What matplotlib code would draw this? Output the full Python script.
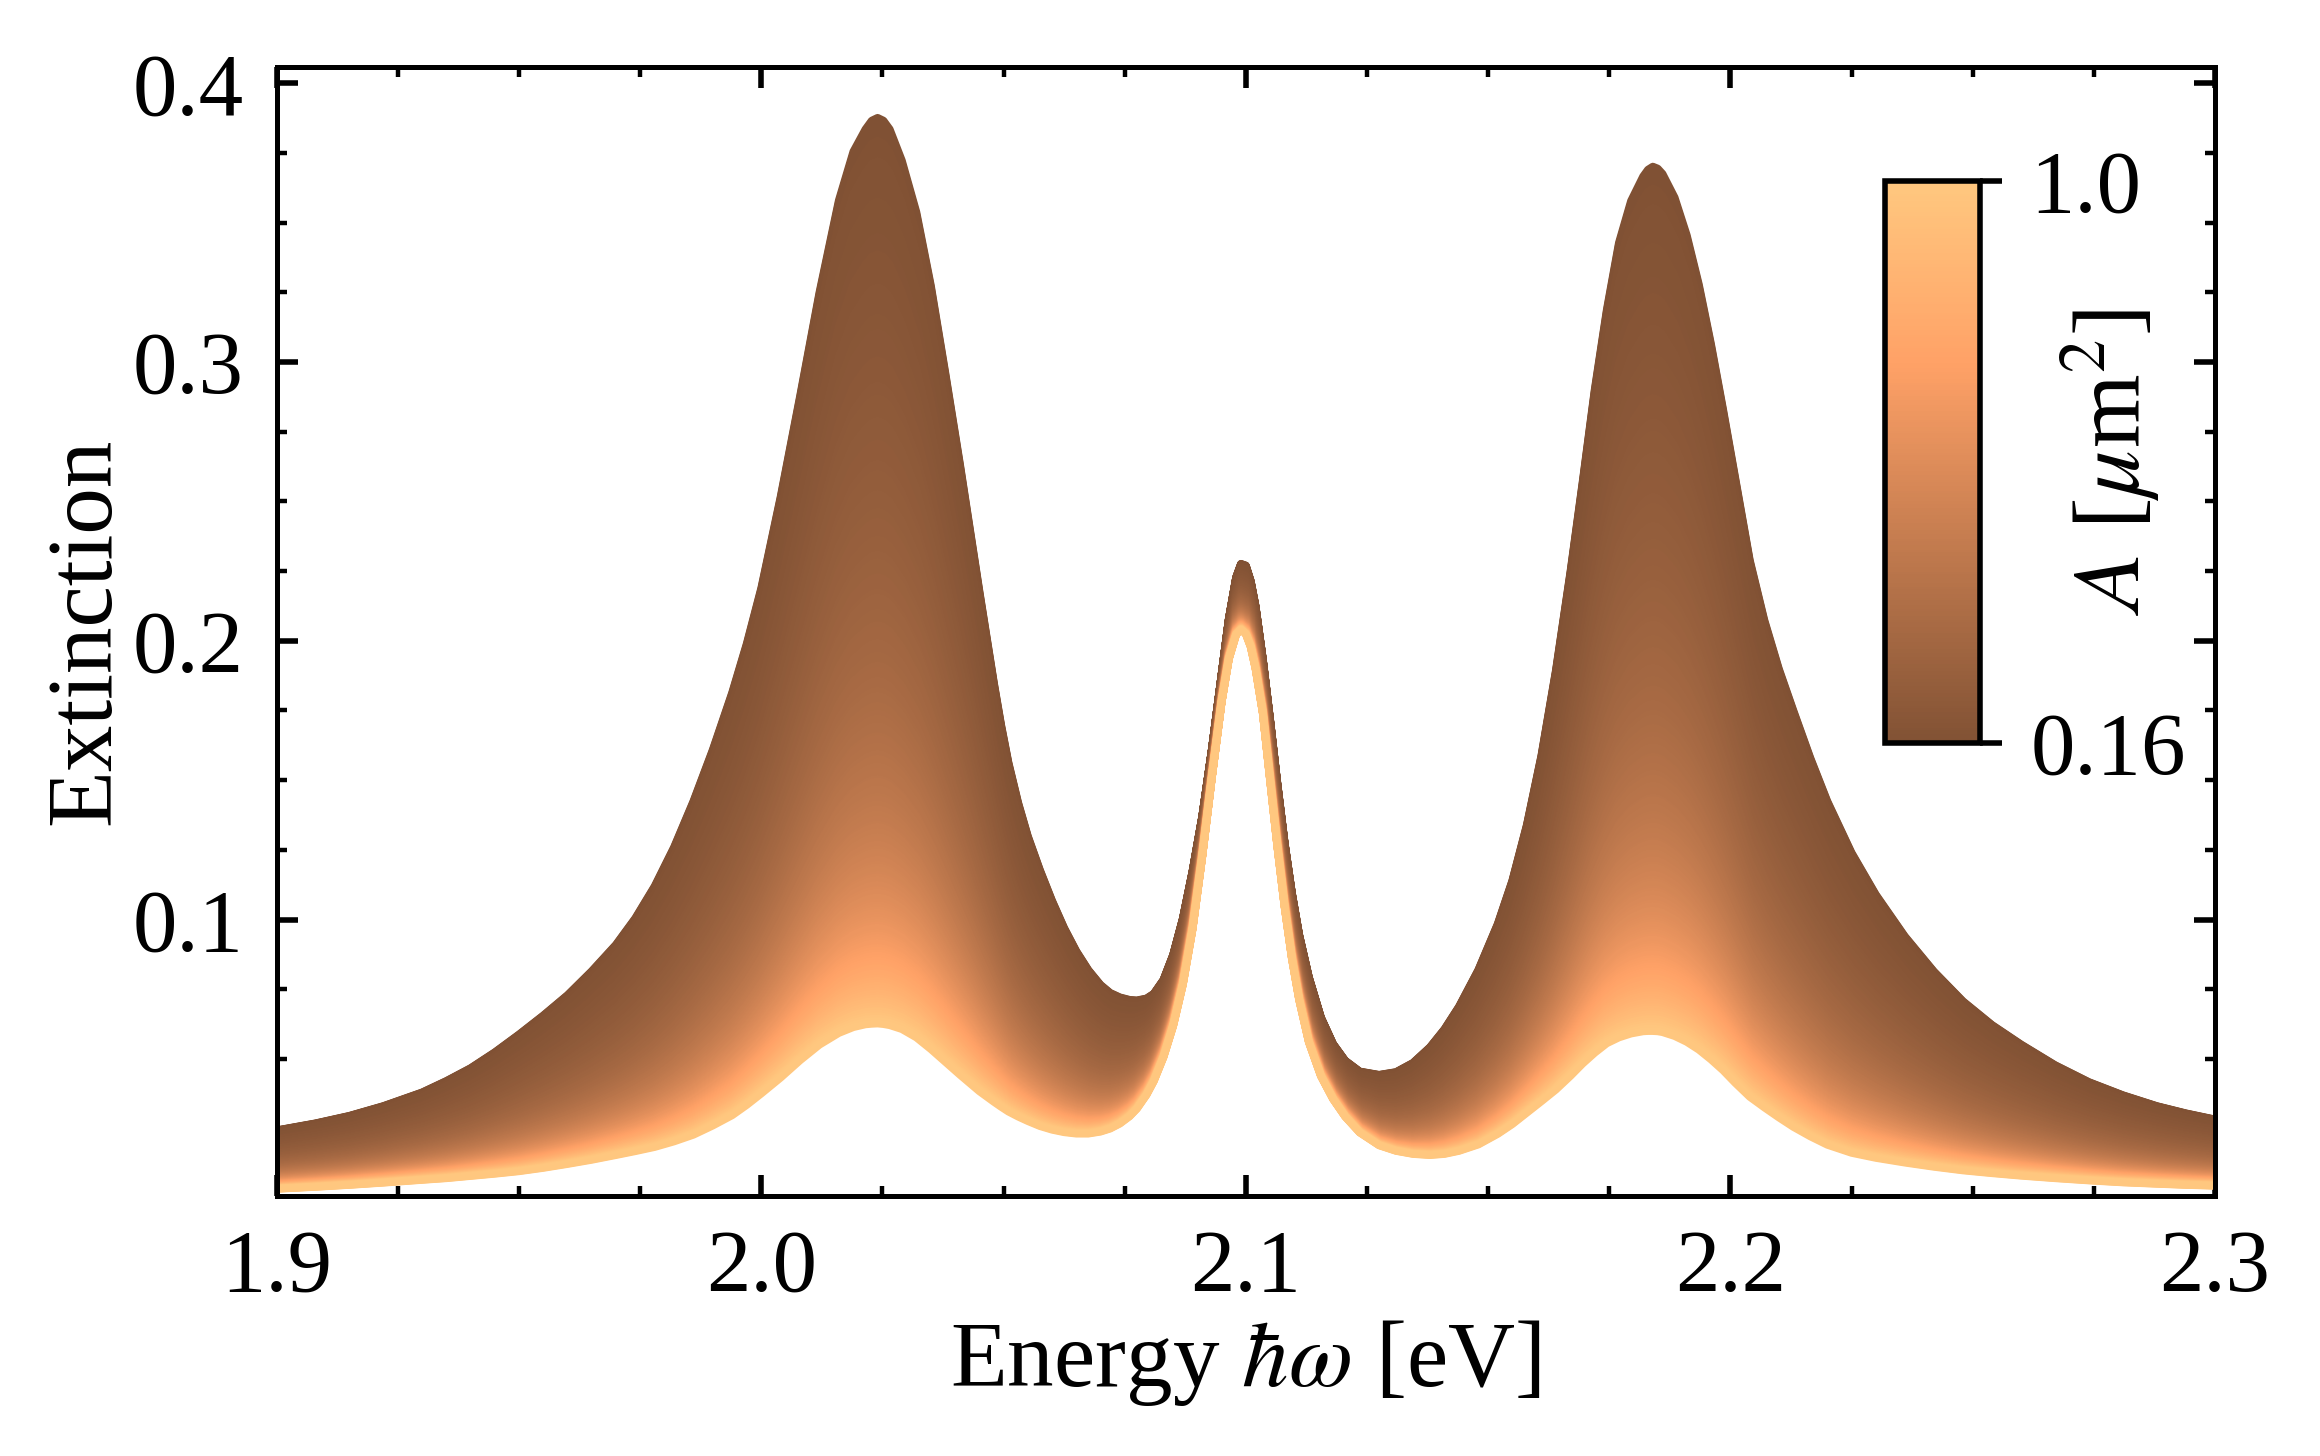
import numpy as np
import matplotlib
matplotlib.use("Agg")
import matplotlib.pyplot as plt
from matplotlib.collections import LineCollection
from matplotlib.colors import ListedColormap, Normalize
from matplotlib.cm import ScalarMappable
from matplotlib.ticker import MultipleLocator

plt.rcParams['font.family'] = ['Liberation Serif', 'DejaVu Serif']
plt.rcParams['mathtext.fontset'] = 'stix'

# ---------------- data ----------------
energy = [1.900, 1.908, 1.915, 1.922, 1.930, 1.935, 1.940, 1.945, 1.950, 1.955,
          1.960, 1.965, 1.970, 1.974, 1.978, 1.982, 1.986, 1.990, 1.994, 1.997,
          2.000, 2.004, 2.008, 2.012, 2.016, 2.019, 2.0215, 2.0228, 2.024, 2.0252,
          2.0265, 2.029, 2.032, 2.035, 2.038, 2.041, 2.045, 2.048, 2.0495, 2.051,
          2.053, 2.055, 2.0575, 2.060, 2.0625, 2.065, 2.0675, 2.070, 2.072, 2.074,
          2.076, 2.0775, 2.0795, 2.081, 2.083, 2.085, 2.087, 2.089, 2.091, 2.093,
          2.095, 2.0965, 2.098, 2.099, 2.100, 2.101, 2.102, 2.1035, 2.105, 2.1065,
          2.108, 2.1095, 2.111, 2.113, 2.1155, 2.118, 2.1205, 2.1235, 2.1275, 2.131,
          2.1345, 2.138, 2.141, 2.144, 2.148, 2.152, 2.155, 2.158, 2.161, 2.164,
          2.167, 2.1695, 2.172, 2.1745, 2.177, 2.1795, 2.182, 2.183, 2.184, 2.185,
          2.186, 2.1885, 2.191, 2.1935, 2.196, 2.1985, 2.201, 2.204, 2.207, 2.210,
          2.213, 2.2165, 2.220, 2.225, 2.230, 2.236, 2.242, 2.248, 2.254, 2.260,
          2.267, 2.274, 2.281, 2.288, 2.294, 2.300]

# extinction for the smallest cell area (A = 0.16 um^2, upper envelope)
ext_A_min = [0.0244, 0.0269, 0.0296, 0.0331, 0.0380, 0.0421, 0.0467, 0.0524, 0.0588, 0.0656,
             0.0729, 0.0815, 0.0910, 0.1005, 0.1120, 0.1260, 0.1425, 0.1610, 0.1815, 0.1990,
             0.2190, 0.2518, 0.2878, 0.3250, 0.3580, 0.3755, 0.3835, 0.3866, 0.3876, 0.3866,
             0.3835, 0.3723, 0.3538, 0.3274, 0.2959, 0.2634, 0.2180, 0.1850, 0.1698, 0.1564,
             0.1420, 0.1300, 0.1178, 0.1068, 0.0970, 0.0887, 0.0819, 0.0766, 0.0737, 0.0721,
             0.0712, 0.0710, 0.0717, 0.0734, 0.0784, 0.0874, 0.1004, 0.1174, 0.1370, 0.1612,
             0.1880, 0.2080, 0.2228, 0.2276, 0.2270, 0.2215, 0.2125, 0.1935, 0.1718, 0.1489,
             0.1276, 0.1096, 0.0946, 0.0794, 0.0649, 0.0554, 0.0494, 0.0455, 0.0443, 0.0453,
             0.0486, 0.0542, 0.0607, 0.0688, 0.0820, 0.0985, 0.1140, 0.1340, 0.1589, 0.1895,
             0.2249, 0.2569, 0.2901, 0.3188, 0.3428, 0.3578, 0.3666, 0.3690, 0.3701, 0.3694,
             0.3675, 0.3590, 0.3455, 0.3278, 0.3065, 0.2830, 0.2585, 0.2290, 0.2075, 0.1900,
             0.1750, 0.1580, 0.1425, 0.1240, 0.1090, 0.0940, 0.0814, 0.0707, 0.0622, 0.0552,
             0.0478, 0.0417, 0.0370, 0.0331, 0.0305, 0.0283]

# extinction for the largest cell area (A = 1.0 um^2, lower envelope)
ext_A_max = [0.0034, 0.0041, 0.0048, 0.0056, 0.0066, 0.0072, 0.0080, 0.0088, 0.0097, 0.0109,
             0.0123, 0.0138, 0.0155, 0.0169, 0.0184, 0.0204, 0.0228, 0.0261, 0.0298, 0.0335,
             0.0376, 0.0433, 0.0495, 0.0551, 0.0593, 0.0614, 0.0624, 0.0626, 0.0627, 0.0625,
             0.0621, 0.0607, 0.0577, 0.0535, 0.0489, 0.0443, 0.0384, 0.0346, 0.0328, 0.0311,
             0.0293, 0.0277, 0.0259, 0.0246, 0.0237, 0.0232, 0.0232, 0.0239, 0.0250, 0.0268,
             0.0294, 0.0321, 0.0371, 0.0420, 0.0506, 0.0618, 0.0766, 0.0965, 0.1225, 0.1511,
             0.1780, 0.1935, 0.2022, 0.2040, 0.2024, 0.1978, 0.1900, 0.1740, 0.1500, 0.1262,
             0.1045, 0.0860, 0.0712, 0.0560, 0.0438, 0.0356, 0.0293, 0.0236, 0.0190, 0.0170,
             0.0159, 0.0155, 0.0159, 0.0170, 0.0193, 0.0231, 0.0266, 0.0307, 0.0348, 0.0390,
             0.0439, 0.0483, 0.0522, 0.0556, 0.0577, 0.0591, 0.0599, 0.0600, 0.0600, 0.0599,
             0.0596, 0.0582, 0.0561, 0.0533, 0.0498, 0.0459, 0.0414, 0.0364, 0.0326, 0.0290,
             0.0256, 0.0222, 0.0192, 0.0163, 0.0145, 0.0128, 0.0113, 0.0100, 0.0090, 0.0081,
             0.0072, 0.0064, 0.0057, 0.0052, 0.0048, 0.0045]

area_range = [0.16, 1.0]           # A in um^2
cbar_ticks = [0.16, 1.0]
cbar_ticklabels = ['0.16', '1.0']
x_ticks = [1.9, 2.0, 2.1, 2.2, 2.3]
y_ticks = [0.1, 0.2, 0.3, 0.4]
x_label = r'Energy $\hbar\omega$ [eV]'
y_label = 'Extinction'
cbar_label = r'$A$ [$\mu$m$^2$]'

# ---------------- figure ----------------
FS = 32
FS_LABEL = 33.5
fig = plt.figure(figsize=(11.6, 7.28), dpi=200)
ax = fig.add_axes([0.1193, 0.1789, 0.8354, 0.7754])

x = np.asarray(energy)
top = np.asarray(ext_A_min)
bot = np.asarray(ext_A_max)
A_lo, A_hi = area_range

# family of curves: extinction scales with 1/A between the two envelopes
inv_area = np.linspace(1.0 / A_hi, 1.0 / A_lo, 360)
areas = np.sort(1.0 / inv_area)               # small A (dark) drawn first
weights = (1.0 / areas - 1.0 / A_hi) / (1.0 / A_lo - 1.0 / A_hi)

base = plt.get_cmap('copper')
cmap = ListedColormap(base(np.linspace(0.41, 1.0, 256)))
norm = Normalize(vmin=A_lo, vmax=A_hi)

segs = [np.column_stack([x, bot + (top - bot) * w]) for w in weights]
lc = LineCollection(segs, colors=cmap(norm(areas)), linewidths=2.8,
                    capstyle='butt', joinstyle='round')
ax.add_collection(lc)

ax.set_xlim(1.9, 2.3)
ax.set_ylim(0.001, 0.406)
ax.set_xticks(x_ticks)
ax.set_yticks(y_ticks)
ax.xaxis.set_minor_locator(MultipleLocator(0.025))
ax.yaxis.set_minor_locator(MultipleLocator(0.025))
ax.set_xticklabels([f'{v:.1f}' for v in x_ticks])
ax.set_yticklabels([f'{v:.1f}' for v in y_ticks])
ax.tick_params(which='both', direction='in', top=True, right=True, labelsize=FS)
ax.tick_params(which='major', length=7.5, width=2.0)
ax.tick_params(which='minor', length=3.5, width=1.6)
ax.tick_params(axis='x', which='major', pad=12)
ax.tick_params(axis='y', which='major', pad=12)
for sp in ax.spines.values():
    sp.set_linewidth(1.8)

ax.set_xlabel(x_label, fontsize=FS_LABEL, labelpad=3)
ax.set_ylabel(y_label, fontsize=FS_LABEL, labelpad=1)

# colorbar inset
cax = ax.inset_axes([0.830, 0.4008, 0.049, 0.4979])
sm = ScalarMappable(norm=norm, cmap=cmap)
cb = fig.colorbar(sm, cax=cax)
cb.set_ticks(cbar_ticks)
cb.set_ticklabels(cbar_ticklabels)
cb.minorticks_off()
cb.outline.set_linewidth(2.0)
cax.tick_params(direction='out', length=8, width=2.0, pad=10, labelsize=FS)
cax.text(2.38, 0.5, cbar_label, rotation=90, ha='center', va='center',
         fontsize=34, transform=cax.transAxes)

fig.savefig('out.png', dpi=200)
